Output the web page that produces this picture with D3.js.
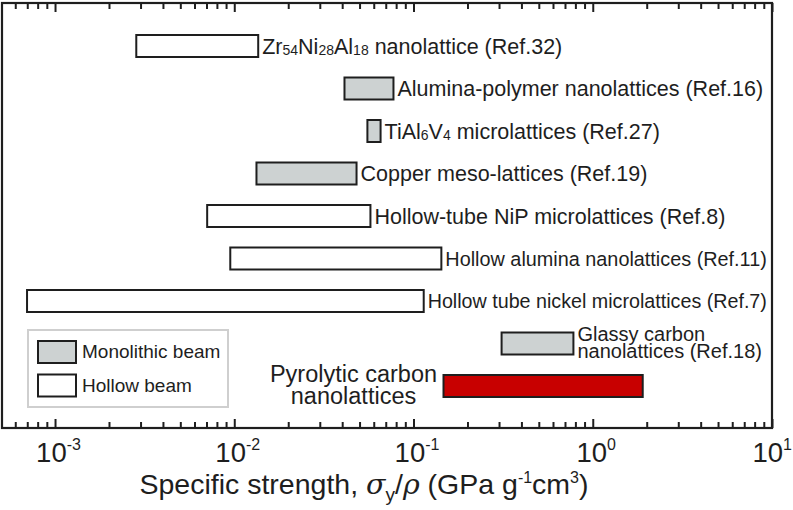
<!DOCTYPE html>
<html>
<head>
<meta charset="utf-8">
<script src="https://cdn.jsdelivr.net/npm/d3@7"></script>
<style>
  body { margin: 0; background: #fff; }
  svg { font-family: "Liberation Sans", Arial, sans-serif; }
</style>
</head>
<body>
<div id="container"></div>
<script>
/* DATA */
const materials = ["Zr", "AluPoly", "TiAlV", "Copper", "NiP", "HolAlu", "HolNi", "Glassy", "Pyro"];
const lowValues = [0.00284, 0.0412, 0.0553, 0.0133, 0.00706, 0.0095, 0.000698, 0.31, 0.147];
const highValues = [0.0136, 0.0773, 0.0655, 0.0481, 0.0575, 0.143, 0.114, 0.78, 1.9];
const beamTypes = ["hollow", "mono", "mono", "mono", "hollow", "hollow", "hollow", "mono", "pyro"];
// label pieces: [text, isSub]
const labels = [
  [["Zr", 0], ["54", 1], ["Ni", 0], ["28", 1], ["Al", 0], ["18", 1], [" nanolattice (Ref.32)", 0]],
  [["Alumina-polymer nanolattices (Ref.16)", 0]],
  [["TiAl", 0], ["6", 1], ["V", 0], ["4", 1], [" microlattices (Ref.27)", 0]],
  [["Copper meso-lattices (Ref.19)", 0]],
  [["Hollow-tube NiP microlattices (Ref.8)", 0]],
  [["Hollow alumina nanolattices (Ref.11)", 0]],
  [["Hollow tube nickel microlattices (Ref.7)", 0]],
  [],
  []
];
const majorTicks = [1e-3, 1e-2, 1e-1, 1, 10];
const tickExponents = ["-3", "-2", "-1", "0", "1"];
const legendItems = ["Monolithic beam", "Hollow beam"];

/* CONSTANTS */
const width = 793, height = 510;
const margin = {top: 3, right: 21, bottom: 82, left: 2};
const fills = {mono: "#cdd2d2", hollow: "#ffffff", pyro: "#c80000"};
const ink = "#1e1e1e";

const svg = d3.select("#container").append("svg")
  .attr("width", width)
  .attr("height", height);

let xScale = d3.scaleLog()
  .domain([0.000506, 10])
  .range([margin.left, width - margin.right]);

let yScale = d3.scalePoint()
  .domain(materials)
  .range([46, 386]);

const barH = 22;
const plotRight = width - margin.right;

// minor + major tick values
let allTicks = [];
for (let e = -4; e <= 0; e++) {
  for (let m = 1; m <= 9; m++) {
    const v = m * Math.pow(10, e);
    if (v >= xScale.domain()[0] && v <= 10) allTicks.push(v);
  }
}
allTicks.push(10);
const isMajor = v => Math.abs(Math.log10(v) - Math.round(Math.log10(v))) < 1e-9;

const plotBottom = height - margin.bottom;

// bottom ticks (inward)
const bottomAxis = svg.append("g")
  .attr("transform", `translate(0,${plotBottom})`)
  .call(d3.axisBottom(xScale).tickValues(allTicks).tickSize(-5).tickFormat(""));
bottomAxis.select(".domain").remove();
bottomAxis.selectAll(".tick line")
  .attr("y2", d => isMajor(d) ? -9 : -6)
  .attr("stroke", ink).attr("stroke-width", 2);

// top ticks (inward)
const topAxis = svg.append("g")
  .attr("transform", `translate(0,${margin.top})`)
  .call(d3.axisTop(xScale).tickValues(allTicks).tickSize(-5).tickFormat(""));
topAxis.select(".domain").remove();
topAxis.selectAll(".tick line")
  .attr("y2", d => isMajor(d) ? 9 : 6)
  .attr("stroke", ink).attr("stroke-width", 2);

// frame
svg.append("rect")
  .attr("x", margin.left).attr("y", margin.top)
  .attr("width", plotRight - margin.left)
  .attr("height", plotBottom - margin.top)
  .attr("fill", "none").attr("stroke", ink).attr("stroke-width", 2.2);

// tick labels
const tl = svg.append("g").selectAll("text")
  .data(majorTicks)
  .join("text")
  .attr("x", d => xScale(d) + 3.5)
  .attr("y", 462)
  .attr("text-anchor", "middle")
  .attr("font-size", 27.5)
  .attr("fill", ink);
tl.append("tspan").text("10");
tl.append("tspan").attr("font-size", 16).attr("dy", -12).text((d, i) => tickExponents[i]);
// keep the last label inside the page
tl.each(function() {
  const b = this.getBBox();
  if (b.x + b.width > width - 1) {
    d3.select(this).attr("x", +d3.select(this).attr("x") - (b.x + b.width - width + 1));
  }
});

// bars
svg.append("g").selectAll("rect")
  .data(materials)
  .join("rect")
  .attr("x", (d, i) => xScale(lowValues[i]))
  .attr("y", d => yScale(d) - barH / 2)
  .attr("width", (d, i) => xScale(highValues[i]) - xScale(lowValues[i]))
  .attr("height", barH)
  .attr("fill", (d, i) => fills[beamTypes[i]])
  .attr("stroke", ink)
  .attr("stroke-width", 2);

// labels
const lab = svg.append("g").selectAll("text")
  .data(materials)
  .join("text")
  .attr("x", (d, i) => xScale(highValues[i]) + 4)
  .attr("y", d => yScale(d) + 7.5)
  .attr("font-size", 21.5)
  .attr("fill", ink);
lab.each(function(d, i) {
  const t = d3.select(this);
  labels[i].forEach((p, j) => {
    const prevSub = j > 0 && labels[i][j - 1][1];
    const s = t.append("tspan").text(p[0]);
    if (p[1]) s.attr("font-size", 14).attr("dy", 1);
    else if (prevSub) s.attr("dy", -1);
  });
  // shrink labels that would run past the frame
  if (labels[i].length === 1) {
    const len = this.getComputedTextLength();
    const room = plotRight - 5 - (+t.attr("x"));
    if (len > room) t.attr("font-size", 21.5 * room / len).attr("y", yScale(d) + 7);
  }
});

// glassy carbon two-line label
const gi = materials.indexOf("Glassy");
const gl = svg.append("text")
  .attr("x", xScale(highValues[gi]) + 4)
  .attr("y", yScale("Glassy") - 3)
  .attr("font-size", 20)
  .attr("fill", ink);
gl.append("tspan").text("Glassy carbon");
gl.append("tspan").attr("x", xScale(highValues[gi]) + 4).attr("dy", 17.5).text("nanolattices (Ref.18)");

// pyrolytic carbon label
const pi = materials.indexOf("Pyro");
const pl = svg.append("text")
  .attr("x", xScale(lowValues[pi]) - 90)
  .attr("y", yScale("Pyro") - 4)
  .attr("text-anchor", "middle")
  .attr("font-size", 23.5)
  .attr("fill", ink);
pl.append("tspan").text("Pyrolytic carbon");
pl.append("tspan").attr("x", xScale(lowValues[pi]) - 90).attr("dy", 22).text("nanolattices");

// legend
const legend = svg.append("g").attr("transform", "translate(28,330)");
legend.append("rect")
  .attr("width", 200).attr("height", 77)
  .attr("fill", "#fff").attr("stroke", "#cfcfcf").attr("stroke-width", 2);
legend.selectAll("rect.sw")
  .data(legendItems)
  .join("rect")
  .attr("class", "sw")
  .attr("x", 10).attr("y", (d, i) => 11 + i * 33.5)
  .attr("width", 38).attr("height", 22)
  .attr("fill", (d, i) => i === 0 ? fills.mono : fills.hollow)
  .attr("stroke", ink).attr("stroke-width", 2);
legend.selectAll("text")
  .data(legendItems)
  .join("text")
  .attr("x", 54).attr("y", (d, i) => 28 + i * 33.5)
  .attr("font-size", 19)
  .attr("fill", ink)
  .text(d => d);

// x axis title
const title = svg.append("text")
  .attr("x", 364).attr("y", 494)
  .attr("text-anchor", "middle")
  .attr("font-size", 28.5)
  .attr("fill", ink);
title.append("tspan").text("Specific strength, ");
title.append("tspan").attr("font-style", "italic").attr("font-family", "DejaVu Serif, serif").text("σ");
title.append("tspan").attr("font-size", 19).attr("dy", 7).text("y");
title.append("tspan").attr("dy", -7).text("/");
title.append("tspan").attr("font-style", "italic").attr("font-family", "DejaVu Serif, serif").text("ρ");
title.append("tspan").text(" (GPa g");
title.append("tspan").attr("font-size", 16).attr("dy", -11).text("-1");
title.append("tspan").attr("dy", 11).text("cm");
title.append("tspan").attr("font-size", 16).attr("dy", -11).text("3");
title.append("tspan").attr("dy", 11).text(")");
</script>
</body>
</html>
